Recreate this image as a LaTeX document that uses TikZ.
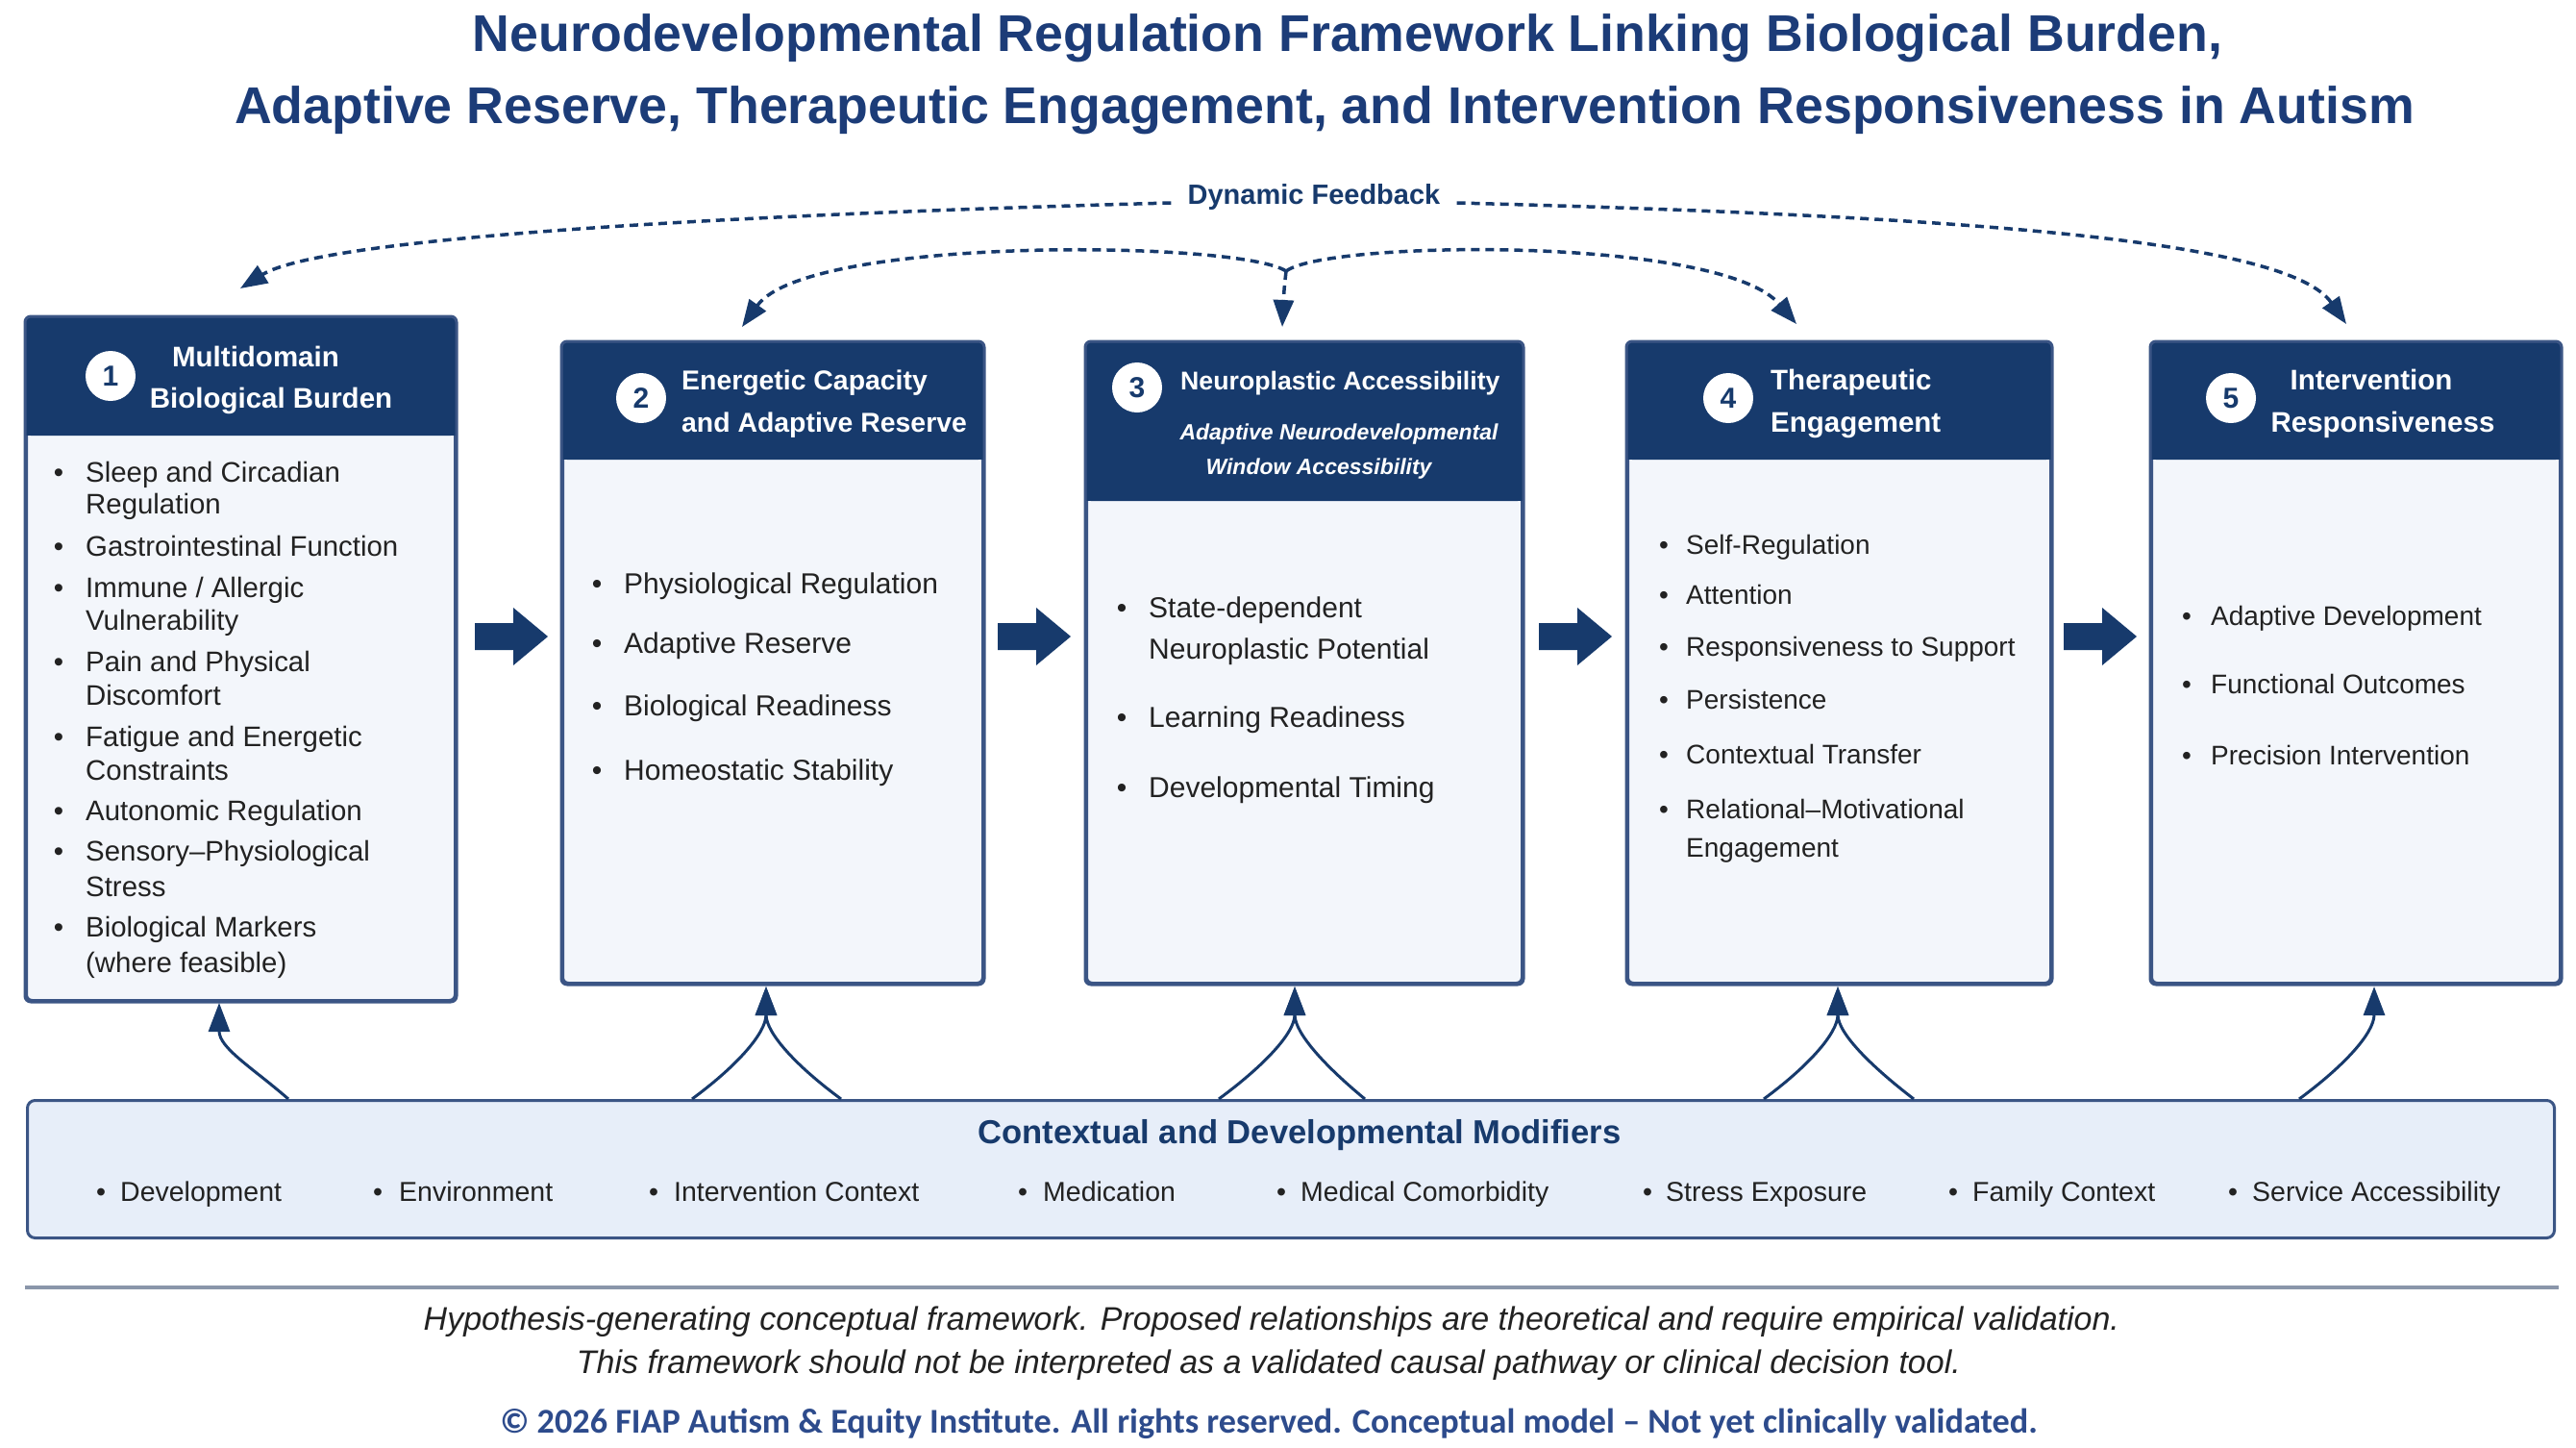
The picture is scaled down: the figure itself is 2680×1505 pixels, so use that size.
\documentclass[tikz,border=0pt]{standalone}
\usepackage{fontspec}
\setmainfont{Liberation Sans}
\newfontfamily\cpfont{Carlito}
\usetikzlibrary{arrows.meta,calc}
\definecolor{navy}{HTML}{173A6C}
\definecolor{ttl}{HTML}{1C3C78}
\definecolor{bord}{HTML}{3B5585}
\definecolor{bodyfill}{HTML}{F3F6FB}
\definecolor{modfill}{HTML}{E7EEF9}
\definecolor{txt}{HTML}{222222}
\definecolor{rulec}{HTML}{8A96AA}
\definecolor{cpc}{HTML}{2D4B8C}
\newcommand\fs[2]{\fontsize{#1}{#2}\selectfont}
\newcommand\bitem[5]{\node[bul] (#1-b) at (#2,#4) {•};\node[itm] (#1) at (#3,#4) {#5};}
\newcommand\citem[4]{\node[itm] (#1) at (#2,#3) {#4};}
\newcommand\mitem[4]{\node[bul] (#1-b) at (#2,1249) {•};\node[itm] (#1) at (#3,1249) {#4};}
\newcommand\blk[2]{\fill[navy] (#1,648) -- (#1+40,648) -- (#1+40,632) -- (#1+76,662) -- (#1+40,692) -- (#1+40,676) -- (#1,676) -- cycle;}
\newcommand\boxhead[3]{%
  \fill[navy, rounded corners=6pt] (#1.north west) rectangle ($(#1.north east)+(0,#2)$);
  \fill[navy] ($(#1.north west)+(0,#2-12)$) rectangle ($(#1.north east)+(0,#2)$);
  \draw[bord, line width=3pt, rounded corners=6pt] (#1.north west) rectangle (#1.south east);}
\begin{document}
\begin{tikzpicture}[x=1pt,y=-1pt,
  boxbody/.style={draw=bord, line width=3pt, fill=bodyfill, rounded corners=6pt, inner sep=0, anchor=north west},
  badge/.style={circle, fill=white, minimum size=52pt, inner sep=0, font=\bfseries\fs{30}{30}, text=navy},
  hdr/.style={text=white, font=\bfseries\fs{29.5}{34}, inner sep=0},
  hdrit/.style={text=white, font=\bfseries\itshape\fs{23}{26}, inner sep=0, anchor=base},
  bul/.style={anchor=base, inner sep=0, text=txt},
  itm/.style={anchor=base west, inner sep=0, text=txt},
  dfb/.style={draw=navy, line width=3.5pt, dash pattern=on 9pt off 6pt, -{Triangle[length=28pt,width=21pt]}},
  modarr/.style={draw=navy, line width=3pt, -{Triangle[length=30pt,width=22pt]}},
  ttlnode/.style={text=ttl, font=\bfseries\fs{53.7}{60}, inner sep=0, anchor=base},
  foot/.style={text=txt, font=\itshape\fs{34}{38}, inner sep=0, anchor=base}]
\fill[white] (0,0) rectangle (2680,1505);
\useasboundingbox (0,0) rectangle (2680,1505);

% title
\node[ttlnode] (t1) at (1402,53) {Neurodevelopmental Regulation Framework Linking Biological Burden,};
\node[ttlnode] (t2) at (1378,128) {Adaptive Reserve, Therapeutic Engagement, and Intervention Responsiveness in Autism};

% boxes
\node[boxbody, minimum width=446pt, minimum height=710pt] (b1) at (26,329) {};
\node[boxbody, minimum width=437pt, minimum height=666pt] (b2) at (584,355) {};
\node[boxbody, minimum width=453pt, minimum height=666pt] (b3) at (1129,355) {};
\node[boxbody, minimum width=440pt, minimum height=666pt] (b4) at (1692,355) {};
\node[boxbody, minimum width=425pt, minimum height=666pt] (b5) at (2237,355) {};
\boxhead{b1}{124}{}
\boxhead{b2}{123}{}
\boxhead{b3}{166}{}
\boxhead{b4}{123}{}
\boxhead{b5}{123}{}

% badges and header texts
\node[badge] (c1) at (115,391) {1};
\node[badge] (c2) at (667,414) {2};
\node[badge] (c3) at (1183,403) {3};
\node[badge] (c4) at (1798,414) {4};
\node[badge] (c5) at (2321,414) {5};
\node[hdr, anchor=base] (h1a) at (266,381) {Multidomain};
\node[hdr, anchor=base] (h1b) at (282,424) {Biological Burden};
\node[hdr, anchor=base west, font=\bfseries\fs{28.4}{32}] (h2a) at (709,405) {Energetic Capacity};
\node[hdr, anchor=base west, font=\bfseries\fs{28.4}{32}] (h2b) at (709,449) {and Adaptive Reserve};
\node[hdr, anchor=base west, font=\bfseries\fs{26.7}{30}] (h3a) at (1228,405) {Neuroplastic Accessibility};
\node[hdrit] (h3b) at (1393,457) {Adaptive Neurodevelopmental};
\node[hdrit] (h3c) at (1372,493) {Window Accessibility};
\node[hdr, anchor=base west] (h4a) at (1842,405) {Therapeutic};
\node[hdr, anchor=base west] (h4b) at (1842,449) {Engagement};
\node[hdr, anchor=base] (h5a) at (2467,405) {Intervention};
\node[hdr, anchor=base] (h5b) at (2479,449) {Responsiveness};

% box 1 items
\begin{scope}[every node/.append style={font=\fs{29.4}{34}}]
\bitem{a1}{61}{89}{501}{Sleep and Circadian}
\citem{a1c}{89}{534}{Regulation}
\bitem{a2}{61}{89}{578}{Gastrointestinal Function}
\bitem{a3}{61}{89}{621}{Immune / Allergic}
\citem{a3c}{89}{655}{Vulnerability}
\bitem{a4}{61}{89}{698}{Pain and Physical}
\citem{a4c}{89}{733}{Discomfort}
\bitem{a5}{61}{89}{776}{Fatigue and Energetic}
\citem{a5c}{89}{811}{Constraints}
\bitem{a6}{61}{89}{853}{Autonomic Regulation}
\bitem{a7}{61}{89}{895}{Sensory–Physiological}
\citem{a7c}{89}{932}{Stress}
\bitem{a8}{61}{89}{974}{Biological Markers}
\citem{a8c}{89}{1011}{(where feasible)}
\end{scope}
% box 2 and 3 items
\begin{scope}[every node/.append style={font=\fs{30}{34}}]
\bitem{e1}{621}{649}{617}{Physiological Regulation}
\bitem{e2}{621}{649}{679}{Adaptive Reserve}
\bitem{e3}{621}{649}{744}{Biological Readiness}
\bitem{e4}{621}{649}{811}{Homeostatic Stability}
\bitem{n1}{1167}{1195}{642}{State-dependent}
\citem{n1c}{1195}{685}{Neuroplastic Potential}
\bitem{n2}{1167}{1195}{756}{Learning Readiness}
\bitem{n3}{1167}{1195}{829}{Developmental Timing}
\end{scope}
% box 4 and 5 items
\begin{scope}[every node/.append style={font=\fs{28}{32}}]
\bitem{g1}{1731}{1754}{576}{Self-Regulation}
\bitem{g2}{1731}{1754}{628}{Attention}
\bitem{g3}{1731}{1754}{682}{Responsiveness to Support}
\bitem{g4}{1731}{1754}{737}{Persistence}
\bitem{g5}{1731}{1754}{794}{Contextual Transfer}
\bitem{g6}{1731}{1754}{851}{Relational–Motivational}
\citem{g6c}{1754}{891}{Engagement}
\bitem{r1}{2275}{2300}{650}{Adaptive Development}
\bitem{r2}{2275}{2300}{721}{Functional Outcomes}
\bitem{r3}{2275}{2300}{795}{Precision Intervention}
\end{scope}

% block arrows between boxes
\blk{494}{}
\blk{1038}{}
\blk{1601}{}
\blk{2147}{}

% dynamic feedback
\node[text=navy, font=\bfseries\fs{29}{30}, inner sep=0] (fb) at (1367,205) {Dynamic Feedback};
\coordinate (fbL) at ($(fb.west)+(-17,6)$);
\coordinate (fbR) at ($(fb.east)+(17,6)$);
\coordinate (o1) at (250,300);
\coordinate (o5) at (2441,337);
\coordinate (cusp) at (1338,282);
\coordinate (i2) at (772,340);
\coordinate (i3) at (1334,340);
\coordinate (i4) at (1869,337);
\draw[dfb] (fbL) .. controls (700,225) and (330,250) .. (o1);
\draw[dfb] (fbR) .. controls (2050,225) and (2380,250) .. (o5);
\draw[dfb] (cusp) .. controls (1290,250) and (840,245) .. (i2);
\draw[dfb] (cusp) .. controls (1336,300) .. (i3);
\draw[dfb] (cusp) .. controls (1380,250) and (1790,245) .. (i4);

% modifiers box
\node[draw=bord, line width=3pt, fill=modfill, rounded corners=8pt, inner sep=0, anchor=north west, minimum width=2629pt, minimum height=143pt] (mod) at (27,1143) {};
\node[text=navy, font=\bfseries\fs{34.6}{36}, inner sep=0, anchor=base] (mt) at (1352,1189) {Contextual and Developmental Modifiers};
\begin{scope}[every node/.append style={font=\fs{28.5}{30}}]
\mitem{m1}{105}{125}{Development}
\mitem{m2}{393}{415}{Environment}
\mitem{m3}{680}{701}{Intervention Context}
\mitem{m4}{1064}{1085}{Medication}
\mitem{m5}{1333}{1353}{Medical Comorbidity}
\mitem{m6}{1714}{1733}{Stress Exposure}
\mitem{m7}{2032}{2052}{Family Context}
\mitem{m8}{2323}{2343}{Service Accessibility}
\end{scope}

% modifier arrows
\coordinate (s1) at (300,1143);
\coordinate (s2a) at (720,1143);
\coordinate (s2b) at (875,1143);
\coordinate (s3a) at (1268,1143);
\coordinate (s3b) at (1420,1143);
\coordinate (s4a) at (1835,1143);
\coordinate (s4b) at (1991,1143);
\coordinate (s5) at (2392,1143);
\coordinate (u1) at (228,1043);
\coordinate (u2) at (797,1026);
\coordinate (u3) at (1347,1026);
\coordinate (u4) at (1912,1026);
\coordinate (u5) at (2470,1026);
\draw[modarr] (s1) .. controls (262,1110) and (228,1090) .. (u1);
\draw[modarr] (s2a) .. controls (765,1110) and (797,1075) .. (u2);
\draw[modarr] (s2b) .. controls (830,1110) and (797,1075) .. (u2);
\draw[modarr] (s3a) .. controls (1313,1110) and (1347,1075) .. (u3);
\draw[modarr] (s3b) .. controls (1380,1110) and (1347,1075) .. (u3);
\draw[modarr] (s4a) .. controls (1880,1110) and (1912,1075) .. (u4);
\draw[modarr] (s4b) .. controls (1948,1110) and (1912,1075) .. (u4);
\draw[modarr] (s5) .. controls (2437,1110) and (2470,1075) .. (u5);

% footer
\draw[rulec, line width=4pt] (26,1339) -- (2662,1339);
\node[foot] (f1) at (1323,1383) {Hypothesis-generating conceptual framework. Proposed relationships are theoretical and require empirical validation.};
\node[foot] (f2) at (1320,1428) {This framework should not be interpreted as a validated causal pathway or clinical decision tool.};
\node[text=cpc, font=\cpfont\bfseries\fs{36.2}{38}, inner sep=0, anchor=base] (cp) at (1320,1490) {© 2026 FIAP Autism \& Equity Institute. All rights reserved. Conceptual model – Not yet clinically validated.};
\end{tikzpicture}
\end{document}
